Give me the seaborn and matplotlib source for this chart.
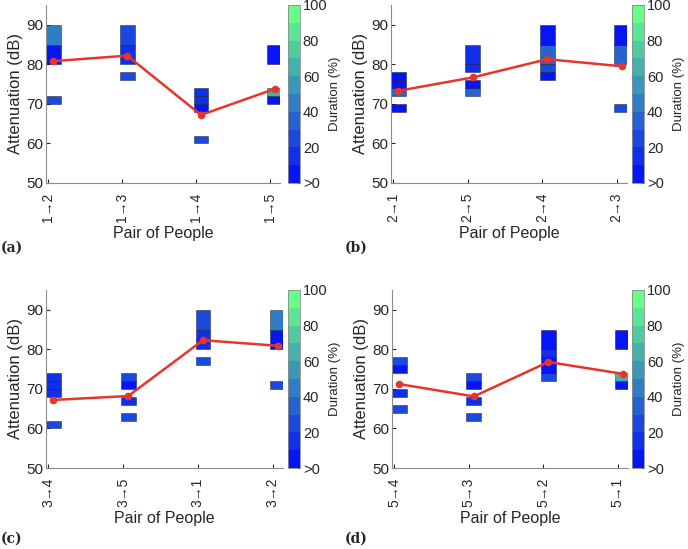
import numpy as np
import matplotlib
matplotlib.use('Agg')
import matplotlib.pyplot as plt
import seaborn as sns
from matplotlib.colors import LinearSegmentedColormap, Normalize
from matplotlib.cm import ScalarMappable

sns.set_style('white')
plt.rcParams['font.family'] = ['Liberation Sans', 'DejaVu Sans']
plt.rcParams['text.color'] = '#262626'
plt.rcParams['axes.labelcolor'] = '#262626'
plt.rcParams['xtick.color'] = '#262626'
plt.rcParams['ytick.color'] = '#262626'

# attenuation bins (dB)
bin_edges = [60, 62, 64, 66, 68, 70, 72, 74, 76, 78, 80, 85, 90]

# panel (a)
pairs_a = ['1→2', '1→3', '1→4', '1→5']
mean_a = [80.8, 82.2, 67.2, 73.8]
dur_a = [[0, 0, 0, 0, 0, 25, 0, 0, 0, 0, 8, 45],
         [0, 0, 0, 0, 0, 0, 0, 0, 22, 0, 18, 22],
         [25, 0, 0, 0, 8, 15, 10, 0, 0, 0, 0, 0],
         [0, 0, 0, 0, 0, 8, 68, 0, 0, 0, 5, 0]]

# panel (b)
pairs_b = ['2→1', '2→5', '2→4', '2→3']
mean_b = [73.3, 76.7, 81.3, 79.5]
dur_b = [[0, 0, 0, 0, 5, 0, 35, 8, 6, 0, 0, 0],
         [0, 0, 0, 0, 0, 0, 35, 8, 0, 15, 10, 0],
         [0, 0, 0, 0, 0, 0, 0, 0, 6, 20, 35, 5],
         [0, 0, 0, 0, 25, 0, 0, 0, 0, 0, 38, 8]]

# panel (c)
pairs_c = ['3→4', '3→5', '3→1', '3→2']
mean_c = [67.2, 68.2, 82.3, 80.9]
dur_c = [[25, 0, 0, 0, 18, 10, 15, 0, 0, 0, 0, 0],
         [0, 25, 0, 12, 0, 8, 25, 0, 0, 0, 0, 0],
         [0, 0, 0, 0, 0, 0, 0, 0, 25, 0, 15, 25],
         [0, 0, 0, 0, 0, 25, 0, 0, 0, 0, 6, 45]]

# panel (d)
pairs_d = ['5→4', '5→3', '5→2', '5→1']
mean_d = [71.2, 68.1, 76.8, 73.8]
dur_d = [[0, 0, 25, 0, 10, 0, 0, 5, 22, 0, 0, 0],
         [0, 25, 0, 15, 0, 8, 25, 0, 0, 0, 0, 0],
         [0, 0, 0, 0, 0, 0, 25, 8, 5, 10, 5, 0],
         [0, 0, 0, 0, 0, 8, 68, 0, 0, 0, 5, 0]]

cmap = LinearSegmentedColormap.from_list('dur', ['#0515f5', '#66ff88'], N=10)
norm = Normalize(0, 100)

W, H = 688, 549
fig = plt.figure(figsize=(W / 100, H / 100), dpi=100)


def px(l, t, w, h):
    return [l / W, 1 - (t + h) / H, w / W, h / H]


def panel(ax_box, cb_box, pairs, mean, dur, letter, lx, ly):
    ax = fig.add_axes(px(*ax_box))
    lo = np.array(bin_edges[:-1])
    hi = np.array(bin_edges[1:])
    for i, col in enumerate(dur):
        col = np.array(col, dtype=float)
        m = col > 0
        ax.bar(np.full(m.sum(), i + 0.07), (hi - lo)[m], bottom=lo[m], width=0.2,
               color=cmap(norm(col[m])), edgecolor=(0, 0, 0, 0.45), linewidth=0.6,
               align='center', zorder=2)
    sns.lineplot(x=np.arange(len(mean)) + 0.07, y=mean, ax=ax, color='#e8352b',
                 marker='o', markersize=5.5, markeredgewidth=0, linewidth=1.8, zorder=3)
    ax.set_xlim(-0.03, 3.14)
    ax.set_ylim(50, 95)
    ax.set_yticks([50, 60, 70, 80, 90])
    ax.set_xticks(range(len(pairs)))
    ax.set_xticklabels(pairs, rotation=90, fontsize=10)
    ax.tick_params(axis='y', labelsize=11, direction='in', length=3, left=True, pad=2)
    ax.tick_params(axis='x', direction='in', length=3, bottom=True, pad=7)
    ax.set_ylabel('Attenuation (dB)', fontsize=12, labelpad=2)
    ax.set_xlabel('Pair of People', fontsize=11.5, labelpad=3)
    for s in ['top', 'right']:
        ax.spines[s].set_visible(False)
    for s in ['left', 'bottom']:
        ax.spines[s].set_color('#8c8c8c')
        ax.spines[s].set_linewidth(0.8)

    cax = fig.add_axes(px(*cb_box))
    cb = fig.colorbar(ScalarMappable(norm=norm, cmap=cmap), cax=cax)
    cb.set_ticks([0, 20, 40, 60, 80, 100])
    cb.set_ticklabels(['>0', '20', '40', '60', '80', '100'])
    cb.ax.tick_params(labelsize=10.5, direction='in', length=2, pad=2)
    cb.outline.set_edgecolor('#8c8c8c')
    cb.outline.set_linewidth(0.6)
    cb.set_label('Duration (%)', fontsize=9.5, labelpad=1)

    fig.text(lx / W, 1 - ly / H, letter, fontsize=10, fontweight='bold',
             family='DejaVu Serif', va='baseline', ha='left')


panel((46, 5, 234, 178), (288, 5, 12, 178), pairs_a, mean_a, dur_a, '(a)', 1, 252)
panel((391, 5, 236, 178), (632, 5, 12, 178), pairs_b, mean_b, dur_b, '(b)', 345, 252)
panel((46, 290, 237, 178), (288, 290, 12, 178), pairs_c, mean_c, dur_c, '(c)', 1, 543)
panel((392, 290, 236, 178), (632, 290, 12, 178), pairs_d, mean_d, dur_d, '(d)', 345, 543)

fig.savefig('out.png', dpi=100)
